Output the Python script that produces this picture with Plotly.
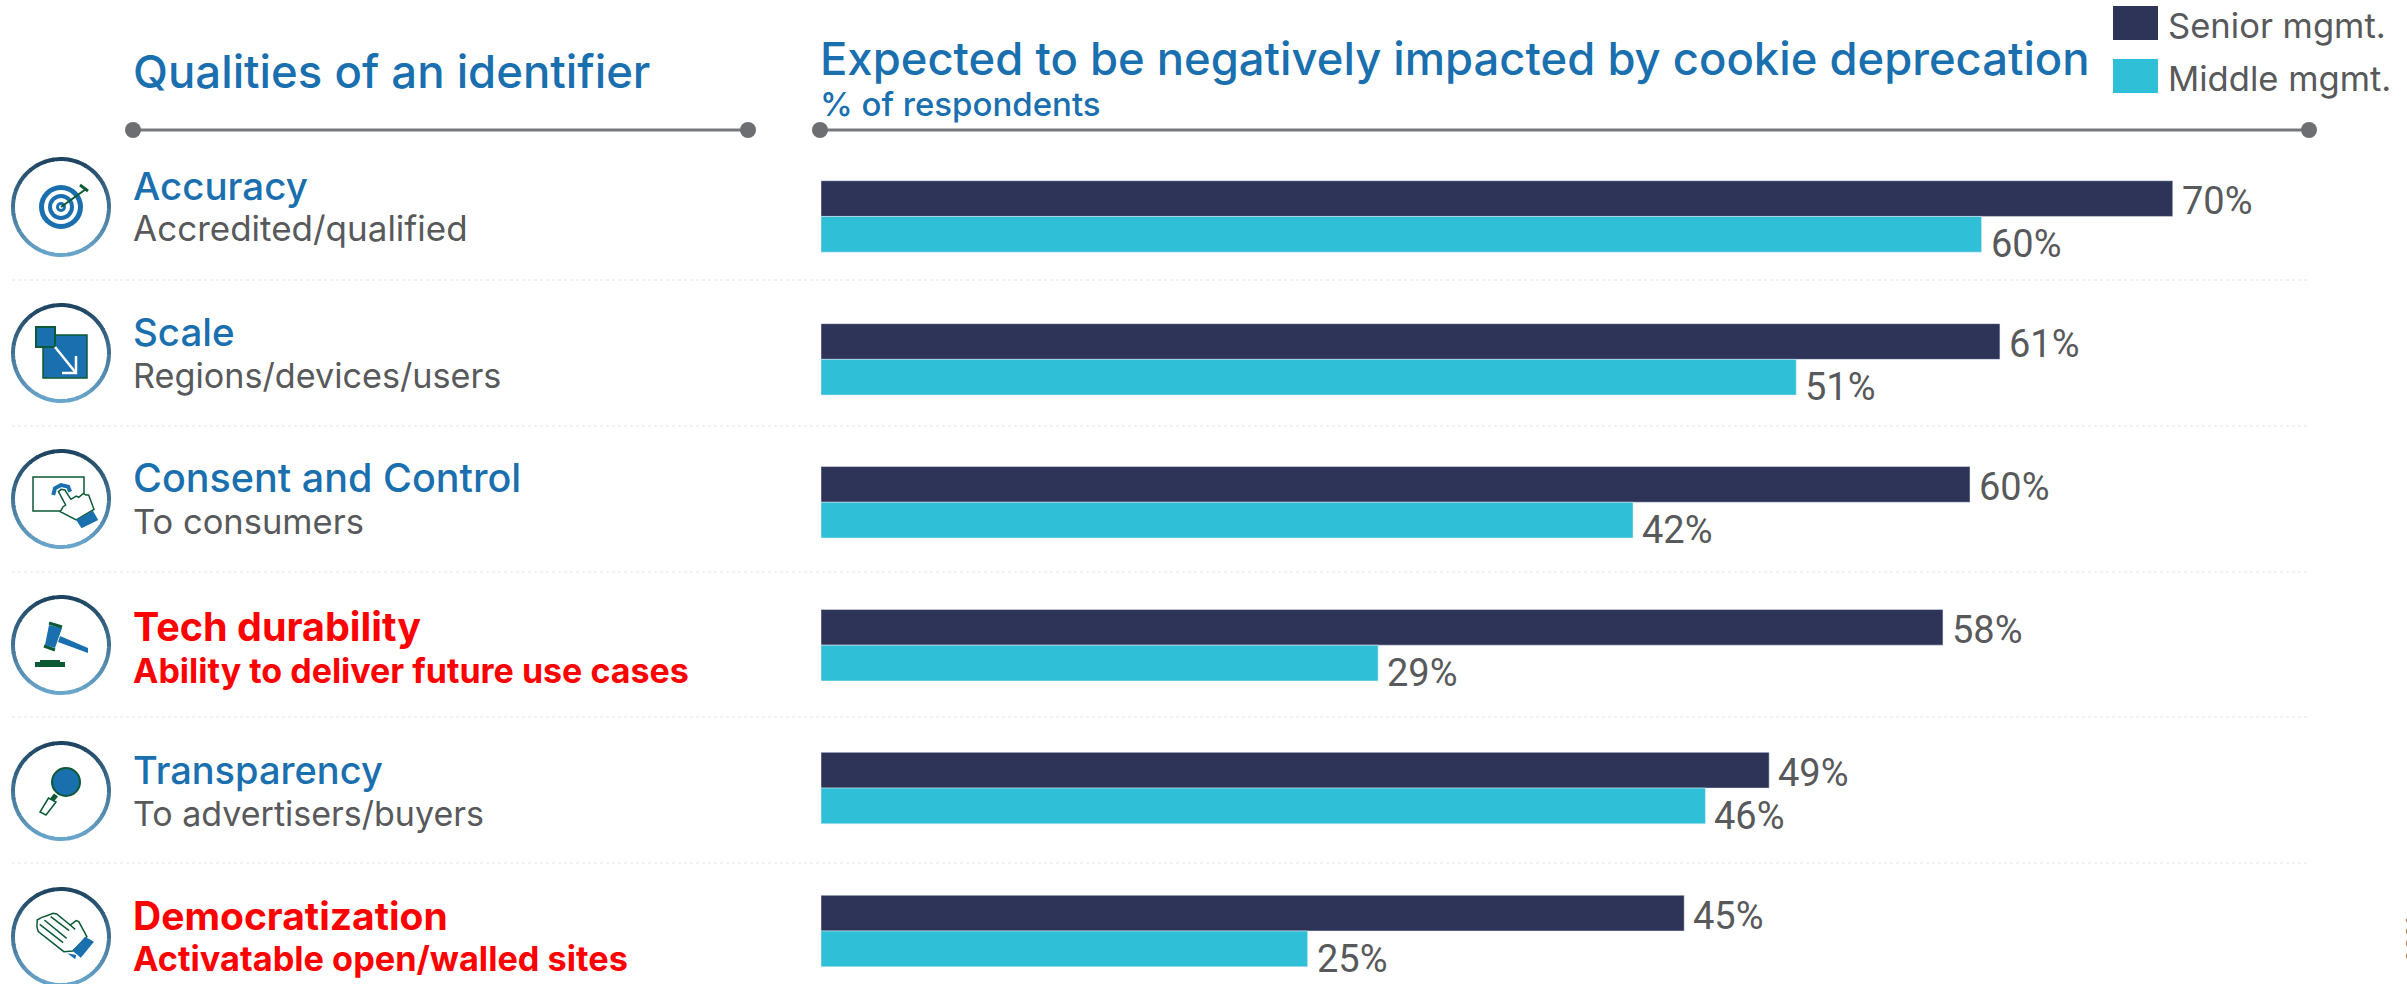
import math
import plotly.graph_objects as go

W, H = 2407, 984
categories = ["Accuracy", "Scale", "Consent and Control", "Tech durability", "Transparency", "Democratization"]
subtitles = ["Accredited/qualified", "Regions/devices/users", "To consumers",
             "Ability to deliver future use cases", "To advertisers/buyers", "Activatable open/walled sites"]
# printed percentages
senior_labels = [70, 61, 60, 58, 49, 45]
middle_labels = [60, 51, 42, 29, 46, 25]
# bar lengths as drawn in the picture (slightly off the printed figures in places)
senior = [70.0, 61.05, 59.5, 58.1, 49.1, 44.7]
middle = [60.1, 50.5, 42.05, 28.85, 45.8, 25.2]
highlighted = ["Tech durability", "Democratization"]

NAVY, CYAN, BLUE, GREY, RED, GREEN = "#2e3458", "#2fc0d8", "#1a6faf", "#58595b", "#ff0000", "#0b5a35"
SANS = "Inter"
NUMF = "Roboto"

px = lambda x: x / W
py = lambda y: 1 - y / H

fig = go.Figure()
fig.add_bar(name="Senior mgmt.", y=categories, x=senior, orientation="h", marker_color=NAVY, showlegend=False)
fig.add_bar(name="Middle mgmt.", y=categories, x=middle, orientation="h", marker_color=CYAN, showlegend=False)

shapes, annots = [], []

def text(x, y, s, size, color, weight=400, anchor="left", font=SANS):
    annots.append(dict(xref="paper", yref="paper", x=px(x), y=py(y), text=s, showarrow=False,
                       xanchor=anchor, yanchor="middle", align="left",
                       font=dict(family=font, size=size, color=color, weight=weight)))

def line(x0, y0, x1, y1, color, w=3, dash=None):
    shapes.append(dict(type="line", xref="paper", yref="paper", x0=px(x0), y0=py(y0), x1=px(x1), y1=py(y1),
                       line=dict(color=color, width=w, dash=dash)))

def rect(x0, y0, x1, y1, fill, lc=None, w=0):
    shapes.append(dict(type="rect", xref="paper", yref="paper", x0=px(x0), y0=py(y0), x1=px(x1), y1=py(y1),
                       fillcolor=fill, line=dict(color=lc or fill, width=w)))

def circle(cx, cy, r, fill, lc=None, w=0):
    shapes.append(dict(type="circle", xref="paper", yref="paper", x0=px(cx - r), y0=py(cy - r), x1=px(cx + r), y1=py(cy + r),
                       fillcolor=fill, line=dict(color=lc or fill, width=w)))

def poly(pts, fill=None, lc=None, w=0, close=True):
    d = "M " + " L ".join(f"{px(x):.5f},{py(y):.5f}" for x, y in pts) + (" Z" if close else "")
    shapes.append(dict(type="path", xref="paper", yref="paper", path=d,
                       fillcolor=fill if fill else "rgba(0,0,0,0)", line=dict(color=lc or fill or "rgba(0,0,0,0)", width=w)))

def ring(cx, cy, r=48):
    n = 36
    for i in range(n):
        a0, a1 = 2 * math.pi * i / n, 2 * math.pi * (i + 1.15) / n
        pts = [(cx + r * math.cos(a0 + (a1 - a0) * k / 4), cy + r * math.sin(a0 + (a1 - a0) * k / 4)) for k in range(5)]
        t = (math.sin((a0 + a1) / 2) + 1) / 2
        c0, c1 = (29, 68, 96), (106, 166, 204)
        col = "rgb(%d,%d,%d)" % tuple(round(c0[j] + (c1[j] - c0[j]) * t) for j in range(3))
        poly(pts, lc=col, w=4, close=False)

# header rules
for x0, x1 in [(133, 748), (820, 2309)]:
    line(x0, 130, x1, 130, "#77787b", 3)
    circle(x0, 130, 8, "#6d6e71")
    circle(x1, 130, 8, "#6d6e71")

# dotted separators
for y in [280, 426, 572, 717, 863]:
    line(12, y, 2308, y, "#e4e4e4", 1, "dot")

# headers
text(131, 72, "Qualities of an identifier", 45.5, BLUE, 500)
text(818, 58, "Expected to be negatively impacted by cookie deprecation", 45.4, BLUE, 500)
text(818, 104, "% of respondents", 33, BLUE, 500)

# legend
rect(2113, 6, 2158, 40, NAVY)
rect(2113, 59, 2158, 93, CYAN)
text(2166, 25, "Senior mgmt.", 34.6, GREY, 400)
text(2166, 78, "Middle mgmt.", 34.6, GREY, 400)

# row texts
title_y = [186, 332, 478, 627, 770, 915]
sub_y = [228, 375, 521, 670, 813, 958]
title_sizes = [38.5, 38.5, 39.5, 39.5, 38, 39]
sub_sizes = [35, 34.2, 34.5, 34, 34, 34.3]
for c, s, ty, sy, ts, ss in zip(categories, subtitles, title_y, sub_y, title_sizes, sub_sizes):
    hot = c in highlighted
    text(131, ty, c, ts, RED if hot else BLUE, 700 if hot else 500)
    text(131, sy, s, ss, RED if hot else GREY, 700 if hot else 400)

# bar value labels
for c, a, b, la, lb in zip(categories, senior, middle, senior_labels, middle_labels):
    for v, lab, dy in ((a, la, -15), (b, lb, 28)):
        annots.append(dict(xref="x", yref="y", x=v, y=c, text=f"{lab}%", showarrow=False, xanchor="left",
                           yanchor="middle", xshift=7, yshift=-dy,
                           font=dict(family=NUMF, size=38, color=GREY, weight=400)))

# icons
cy = [207, 353, 499, 645, 791, 937]
for y in cy:
    ring(61, y)

# target
y = cy[0]
for r, col in [(22, BLUE), (17, "white"), (13, BLUE), (9, "white"), (5, BLUE), (2, "white")]:
    circle(61, y, r, col)
line(61, y, 86, y - 18, GREEN, 2)
line(80, y - 22, 88, y - 16, GREEN, 3)

# scale
y = cy[1]
rect(43, y - 18, 87, y + 25, BLUE, GREEN, 1.5)
rect(36, y - 26, 55, y - 6, BLUE, GREEN, 2)
line(55, y - 6, 76, y + 20, "white", 2.5)
poly([(62, y + 20), (76, y + 20), (76, y + 3)], lc="white", w=2.5, close=False)

def c3(p):
    return (p[0] / 2.82, 440 + p[1] / 3)
rect(33, 477, 84, 511, "white", GREEN, 1.5)
poly([c3(p) for p in [(150, 165), (155, 145), (172, 135), (192, 140), (198, 155)]], lc=BLUE, w=4, close=False)
poly([c3(p) for p in [(165, 155), (172, 148), (183, 150), (200, 178), (215, 168), (222, 172), (235, 160), (242, 165),
                      (250, 165), (265, 208), (215, 240), (170, 215), (178, 200), (185, 195)]], "white", GREEN, 1.5)
poly([c3(p) for p in [(215, 240), (262, 212), (277, 240), (230, 265)]], BLUE)

# gavel
y = cy[3]
poly([(49, y - 20), (62, y - 17), (55, y + 3), (45, y)], BLUE)
line(49, y - 22, 62, y - 18, GREEN, 3)
line(44, y + 1, 55, y + 5, GREEN, 3)
poly([(60, y - 9), (88, y + 3), (88, y + 8), (58, y - 3)], BLUE)
rect(35, y + 17, 65, y + 22, GREEN)
rect(40, y + 15, 60, y + 17, GREEN)

# magnifier
y = cy[4]
circle(66, y - 9, 14, BLUE, GREEN, 2)
line(56, y + 4, 52, y + 9, GREEN, 5)
poly([(48.5, y + 7), (56, y + 11), (46, y + 24), (40, y + 21)], "white", GREEN, 1.5)

def c6(p):
    return (p[0] / 2.82, 870 + p[1] / 3)
poly([c6(p) for p in [(105, 150), (118, 142), (130, 138), (150, 130), (160, 132), (198, 165), (215, 152), (222, 155),
                      (245, 200), (205, 243), (180, 245), (108, 185), (104, 170)]], "white", GREEN, 1.5)
for seg in [[(112, 163), (178, 218)], [(125, 150), (188, 205)], [(143, 140), (195, 182)], [(198, 165), (212, 178)]]:
    poly([c6(p) for p in seg], lc=GREEN, w=1.5, close=False)
poly([c6(p) for p in [(240, 200), (265, 215), (228, 263), (205, 243)]], BLUE)
poly([c6(p) for p in [(190, 250), (215, 255), (212, 268)]], BLUE)

# cropped vertical footnote at the right edge
annots.append(dict(xref="paper", yref="paper", x=px(2414), y=py(940), text="2021", showarrow=False, textangle=-90,
                   xanchor="center", yanchor="middle", font=dict(family=SANS, size=20, color="#777777")))

fig.update_layout(
    width=W, height=H, margin=dict(l=0, r=0, t=0, b=0), paper_bgcolor="white", plot_bgcolor="rgba(0,0,0,0)",
    barmode="group", bargap=0.5, bargroupgap=0, shapes=shapes, annotations=annots,
    xaxis=dict(domain=[821 / W, 1], range=[0, 82.13], visible=False),
    yaxis=dict(domain=[0, 1 - 145 / H], range=[5.371, -0.5], visible=False, type="category",
               categoryorder="array", categoryarray=categories),
)
fig.write_html("out.html", config={"displayModeBar": False},
               post_script="document.body.style.margin='0';document.body.style.overflow='hidden';")
